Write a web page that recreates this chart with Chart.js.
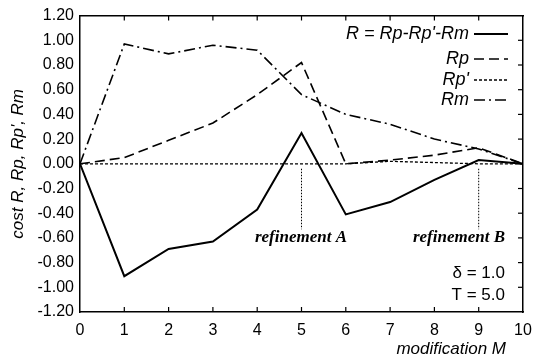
<!DOCTYPE html>
<html>
<head>
<meta charset="utf-8">
<script src="https://cdn.jsdelivr.net/npm/chart.js@4.4.0/dist/chart.umd.min.js"></script>
<style>
  html, body { margin: 0; padding: 0; background: #fff; }
  #wrap { width: 542px; height: 360px; }
</style>
</head>
<body>
<div id="wrap"><canvas id="chart"></canvas></div>
<script>
// modification steps M
const modification = [0, 1, 2, 3, 4, 5, 6, 7, 8, 9, 10];

// cost terms
const costR = [0, -0.91, -0.69, -0.63, -0.37, 0.25, -0.41, -0.31, -0.13, 0.03, 0];
const costRp = [0, 0.05, 0.19, 0.33, 0.56, 0.82, 0, 0.03, 0.07, 0.13, 0];
const costRpPrime = [0, 0, 0, 0, 0, 0, 0, 0.02, 0.01, 0, 0];
const costRm = [0, 0.97, 0.89, 0.96, 0.92, 0.56, 0.40, 0.32, 0.20, 0.12, 0];

const seriesLabels = ["R = Rp-Rp'-Rm", 'Rp', "Rp'", 'Rm'];

// refinement markers: position M, label
const refinementAt = [5, 9];
const refinementLabels = ['refinement A', 'refinement B'];

const paramLabels = ['\u03b4 = 1.0', 'T = 5.0'];

const SANS = '"Liberation Sans", Arial, Helvetica, sans-serif';
const SERIF = '"Liberation Serif", "Times New Roman", serif';

const styles = [
  { dash: [], width: 2 },
  { dash: [10, 5], width: 1.6 },
  { dash: [3, 2], width: 1.3 },
  { dash: [11, 4, 2, 4], width: 1.6 }
];

function toPoints(values) {
  return values.map((v, i) => ({ x: modification[i], y: v }));
}

const datasets = [costR, costRp, costRpPrime, costRm].map((values, i) => ({
  label: seriesLabels[i],
  data: toPoints(values),
  borderColor: '#000',
  borderWidth: styles[i].width,
  borderDash: styles[i].dash,
  pointRadius: 0,
  fill: false,
  tension: 0
}));

// extra drawing: inward ticks, legend, annotations
const decorations = {
  id: 'decorations',
  afterDatasetsDraw(chart) {
    const ctx = chart.ctx;
    const xs = chart.scales.x;
    const ys = chart.scales.y;
    const area = chart.chartArea;
    ctx.save();
    ctx.strokeStyle = '#000';
    ctx.lineWidth = 1.2;
    ctx.setLineDash([]);

    // inward tick marks on bottom, top and right sides
    for (let m = 1; m < 10; m++) {
      const px = xs.getPixelForValue(m);
      ctx.beginPath();
      ctx.moveTo(px, area.bottom);
      ctx.lineTo(px, area.bottom - 5);
      ctx.moveTo(px, area.top);
      ctx.lineTo(px, area.top + 5);
      ctx.stroke();
    }
    for (let k = -5; k <= 5; k++) {
      const py = ys.getPixelForValue(k * 0.2);
      ctx.beginPath();
      ctx.moveTo(area.right, py);
      ctx.lineTo(area.right - 5, py);
      ctx.stroke();
    }

    // legend, text right-aligned with a line sample after it
    const rowY = [34, 59, 80, 100];
    ctx.font = 'italic 18px ' + SANS;
    ctx.fillStyle = '#000';
    ctx.textAlign = 'right';
    ctx.textBaseline = 'middle';
    seriesLabels.forEach((label, i) => {
      ctx.fillText(label, 469, rowY[i]);
      ctx.beginPath();
      ctx.lineWidth = styles[i].width;
      ctx.setLineDash(styles[i].dash);
      ctx.moveTo(474, rowY[i]);
      ctx.lineTo(508, rowY[i]);
      ctx.stroke();
    });

    // refinement markers
    ctx.setLineDash([1.5, 1.5]);
    ctx.lineWidth = 1;
    refinementAt.forEach((m) => {
      const px = xs.getPixelForValue(m);
      ctx.beginPath();
      ctx.moveTo(px, ys.getPixelForValue(-0.04));
      ctx.lineTo(px, ys.getPixelForValue(-0.53));
      ctx.stroke();
    });
    ctx.setLineDash([]);
    ctx.font = 'italic bold 17px ' + SERIF;
    ctx.textBaseline = 'alphabetic';
    ctx.fillText(refinementLabels[0], 347, 242);
    ctx.fillText(refinementLabels[1], 505, 242);

    // parameters
    ctx.font = '17px ' + SANS;
    ctx.textBaseline = 'middle';
    ctx.fillText(paramLabels[0], 505, 273);
    ctx.fillText(paramLabels[1], 505, 295);

    // x-axis title
    ctx.font = 'italic 17px ' + SANS;
    ctx.fillText('modification M', 506, 349);
    ctx.restore();
  }
};

new Chart(document.getElementById('chart'), {
  type: 'line',
  data: { datasets: datasets },
  options: {
    responsive: true,
    maintainAspectRatio: false,
    animation: false,
    layout: { padding: { top: 11, right: 19, left: 0, bottom: 0 } },
    plugins: {
      legend: { display: false },
      tooltip: { enabled: false }
    },
    scales: {
      x: {
        type: 'linear',
        min: 0,
        max: 10,
        afterFit: (scale) => { scale.height = 48; },
        ticks: {
          stepSize: 1,
          padding: 9,
          color: '#000',
          font: { family: SANS, size: 16 }
        },
        grid: { display: false, drawTicks: false },
        border: { display: true, color: '#000', width: 1.5 }
      },
      y: {
        min: -1.2,
        max: 1.2,
        afterFit: (scale) => { scale.width = 80; },
        ticks: {
          stepSize: 0.2,
          padding: 6,
          color: '#000',
          font: { family: SANS, size: 16 },
          callback: (value) => (Math.abs(value) < 1e-9 ? 0 : value).toFixed(2)
        },
        title: {
          display: true,
          text: "cost R, Rp, Rp', Rm",
          color: '#000',
          padding: { top: 8, bottom: 0 },
          font: { family: SANS, size: 17, style: 'italic' }
        },
        grid: { display: false, drawTicks: false },
        border: { display: true, color: '#000', width: 1.5 }
      },
      x2: {
        type: 'linear',
        position: 'top',
        min: 0,
        max: 10,
        ticks: { display: false },
        grid: { display: false, drawTicks: false },
        border: { display: true, color: '#000', width: 1.5 }
      },
      y2: {
        position: 'right',
        min: -1.2,
        max: 1.2,
        ticks: { display: false },
        grid: { display: false, drawTicks: false },
        border: { display: true, color: '#000', width: 1.5 }
      }
    }
  },
  plugins: [decorations]
});
</script>
</body>
</html>
